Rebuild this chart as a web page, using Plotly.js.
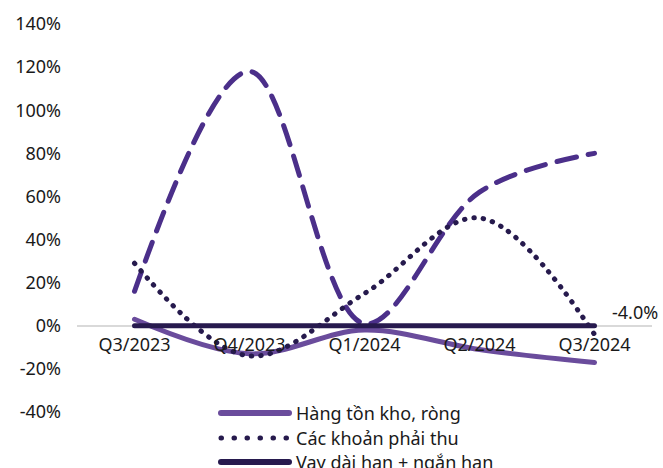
<!DOCTYPE html>
<html>
<head>
<meta charset="utf-8">
<script src="https://cdn.plot.ly/plotly-3.0.1.min.js"></script>
<style>
  html, body { margin: 0; padding: 0; background: #fff; }
  #chart { width: 663px; height: 468px; }
  .js-line { stroke-linecap: round; stroke-linejoin: round; }
  .shapelayer path { stroke-linecap: round; }
</style>
</head>
<body>
<div id="chart"></div>
<script>
const categories = ["Q3/2023", "Q4/2023", "Q1/2024", "Q2/2024", "Q3/2024"];
const hangTonKho = [3, -13, -2, -11, -17];
const khoanPhaiThu = [29, -14, 15, 50, -4];
const vayDaiNgan = [0, 0, 0, 0, 0];
const seriesDashed = [16, 118, 1, 62, 80];
const yTickVals = [-40, -20, 0, 20, 40, 60, 80, 100, 120, 140];
const yTickText = ["-40%", "-20%", "0%", "20%", "40%", "60%", "80%", "100%", "120%", "140%"];
const lastLabel = "-4.0%";
const legendNames = ["Hàng tồn kho, ròng", "Các khoản phải thu", "Vay dài hạn + ngắn hạn"];

const FONT = "'Noto Sans', 'Open Sans', sans-serif";
const FS = 18;
const TXT = "#1a1a1a";

const C_INV = "#6a4c9c", C_REC = "#261a4d", C_LOAN = "#271a4e", C_DASH = "#4b2f8a";

const traces = [
  {
    x: categories, y: seriesDashed, type: "scatter", mode: "lines", showlegend: false,
    line: { color: C_DASH, width: 5, dash: "20px,12px", shape: "spline", smoothing: 1 }
  },
  {
    x: categories, y: hangTonKho, type: "scatter", mode: "lines", showlegend: false,
    name: legendNames[0],
    line: { color: C_INV, width: 5, shape: "spline", smoothing: 1 }
  },
  {
    x: categories, y: khoanPhaiThu, type: "scatter", mode: "lines", showlegend: false,
    name: legendNames[1],
    line: { color: C_REC, width: 5, dash: "0.5px,9px", shape: "spline", smoothing: 1 }
  },
  {
    x: categories, y: vayDaiNgan, type: "scatter", mode: "lines", showlegend: false,
    name: legendNames[2],
    line: { color: C_LOAN, width: 5, shape: "spline", smoothing: 1 }
  }
];

// manual legend (paper coords): plot area x 77..652, y 24..412
const L = 77, W = 575, T = 24, H = 388;
const px = v => (v - L) / W;
const py = v => (T + H - v) / H;
const rows = [413, 438, 462];
const legStyles = [
  { color: C_INV, width: 6, dash: "solid" },
  { color: C_REC, width: 5, dash: "0.5px,12.5px" },
  { color: C_LOAN, width: 6, dash: "solid" }
];
const shapes = rows.map((r, i) => ({
  type: "line", xref: "paper", yref: "paper",
  x0: px(221), x1: px(289), y0: py(r), y1: py(r),
  line: legStyles[i]
}));
const legendAnn = rows.map((r, i) => ({
  xref: "paper", yref: "paper", x: px(294), y: py(r),
  text: legendNames[i], showarrow: false, xanchor: "left", yanchor: "middle",
  font: { family: FONT, size: FS, color: TXT }
}));

const layout = {
  width: 663, height: 468,
  margin: { l: L, r: 663 - L - W, t: T, b: 468 - T - H, autoexpand: false },
  paper_bgcolor: "#ffffff", plot_bgcolor: "#ffffff",
  font: { family: FONT, size: FS, color: TXT },
  showlegend: false,
  xaxis: {
    type: "category", range: [-0.5, 4.5],
    anchor: "free", position: 40 / 180,
    showgrid: false, zeroline: false, showline: false, ticks: "",
    tickfont: { family: FONT, size: FS, color: TXT },
    ticklabelstandoff: 6,
    fixedrange: true
  },
  yaxis: {
    range: [-40, 140],
    tickvals: yTickVals, ticktext: yTickText,
    showgrid: false, zeroline: true, zerolinecolor: "#d9d9d9", zerolinewidth: 2,
    showline: false, ticks: "",
    tickfont: { family: FONT, size: FS, color: TXT },
    ticklabelstandoff: 15,
    fixedrange: true
  },
  shapes: shapes,
  annotations: [
    {
      x: categories[4], y: khoanPhaiThu[4], xref: "x", yref: "y",
      text: lastLabel, showarrow: false, xanchor: "left", yanchor: "middle",
      xshift: 15, yshift: 22,
      font: { family: FONT, size: FS, color: TXT }
    }
  ].concat(legendAnn)
};

Plotly.newPlot("chart", traces, layout, { displayModeBar: false, staticPlot: true });
</script>
</body>
</html>
